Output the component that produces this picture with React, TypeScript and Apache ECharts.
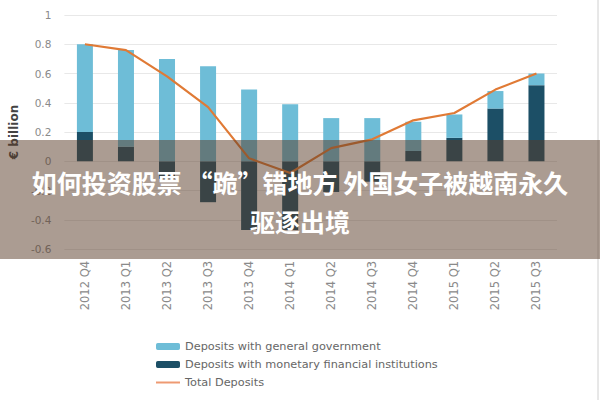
import React, { useEffect, useRef } from "react";
import * as echarts from "echarts";

const categories = [
  "2012 Q4", "2013 Q1", "2013 Q2", "2013 Q3", "2013 Q4", "2014 Q1",
  "2014 Q2", "2014 Q3", "2014 Q4", "2015 Q1", "2015 Q2", "2015 Q3",
];
const govDeposits = [0.6, 0.66, 0.7, 0.65, 0.49, 0.39, 0.295, 0.295, 0.2, 0.16, 0.12, 0.08];
const mfiDeposits = [0.2, 0.1, -0.12, -0.28, -0.47, -0.47, -0.21, -0.14, 0.07, 0.16, 0.36, 0.52];
const totalDeposits = [0.8, 0.76, 0.58, 0.37, 0.02, -0.08, 0.09, 0.15, 0.28, 0.33, 0.49, 0.6];

const seriesNames = [
  "Deposits with general government",
  "Deposits with monetary financial institutions",
  "Total Deposits",
];
const yAxisName = "€ billion";
const bannerLines = ["如何投资股票 “跪”错地方 外国女子被越南永久", "驱逐出境"];

export default function App() {
  const ref = useRef<HTMLDivElement>(null);
  useEffect(() => {
    document.body.style.margin = "0";
    if (!ref.current) return;
    const chart = echarts.init(ref.current, null, { renderer: "svg" });
    const axisFont = '"DejaVu Sans", sans-serif';
    chart.setOption({
      animation: false,
      backgroundColor: "#ffffff",
      grid: { left: 64, right: 43, top: 15, bottom: 151, containLabel: false },
      legend: {
        orient: "vertical",
        left: 151,
        top: 336,
        itemWidth: 24,
        itemHeight: 7,
        itemGap: 7,
        symbolKeepAspect: true,
        data: [
          { name: seriesNames[0] },
          { name: seriesNames[1] },
          { name: seriesNames[2], icon: "path://M0,0H24V2H0Z" },
        ],
        textStyle: { fontSize: 11.3, color: "#666", fontFamily: axisFont },
      },
      xAxis: {
        type: "category",
        data: categories,
        axisLine: { show: false, onZero: false },
        axisTick: { show: false },
        axisLabel: {
          rotate: 90,
          fontSize: 11.5,
          color: "#8a8a8a",
          margin: 12,
          fontFamily: axisFont,
        },
      },
      yAxis: {
        type: "value",
        min: -0.6,
        max: 1,
        interval: 0.2,
        name: yAxisName,
        nameLocation: "middle",
        nameGap: 39,
        nameTextStyle: {
          fontSize: 12,
          fontWeight: "bold",
          color: "#444",
          fontFamily: axisFont,
        },
        axisLine: { show: false },
        axisTick: { show: false },
        splitLine: { lineStyle: { color: "#e8e8e8", width: 1 } },
        axisLabel: {
          fontSize: 10.5,
          color: "#8a8a8a",
          margin: 13,
          fontFamily: axisFont,
          formatter: (v: number) => String(Math.round(v * 10) / 10),
        },
      },
      series: [
        {
          name: seriesNames[1],
          type: "bar",
          stack: "deposits",
          barWidth: 16,
          data: mfiDeposits,
          itemStyle: { color: "#1c4f66" },
        },
        {
          name: seriesNames[0],
          type: "bar",
          stack: "deposits",
          barWidth: 16,
          data: govDeposits,
          itemStyle: { color: "#6ebdd7" },
        },
        {
          name: seriesNames[2],
          type: "line",
          data: totalDeposits,
          symbol: "none",
          lineStyle: { color: "#e07a35", width: 2.2 },
          itemStyle: { color: "#ee9a72" },
          z: 5,
        },
      ],
      graphic: [
        {
          type: "line",
          shape: { x1: 598, y1: 0, x2: 598, y2: 400 },
          style: { stroke: "#d0d0d0", lineWidth: 1 },
          z: 50,
        },
        {
          type: "rect",
          shape: { x: 0, y: 140, width: 600, height: 119 },
          style: { fill: "rgba(87,57,37,0.5)" },
          z: 100,
        },
        {
          type: "text",
          x: 300,
          y: 182,
          style: {
            text: bannerLines[0],
            fill: "#ffffff",
            align: "center",
            verticalAlign: "middle",
            fontSize: 25,
            fontWeight: "bold",
            fontFamily: '"Noto Sans CJK SC", sans-serif',
          },
          z: 101,
        },
        {
          type: "text",
          x: 300,
          y: 221,
          style: {
            text: bannerLines[1],
            fill: "#ffffff",
            align: "center",
            verticalAlign: "middle",
            fontSize: 25,
            fontWeight: "bold",
            fontFamily: '"Noto Sans CJK SC", sans-serif',
          },
          z: 101,
        },
      ],
    });
    return () => chart.dispose();
  }, []);
  return <div ref={ref} style={{ width: 600, height: 400 }} />;
}
